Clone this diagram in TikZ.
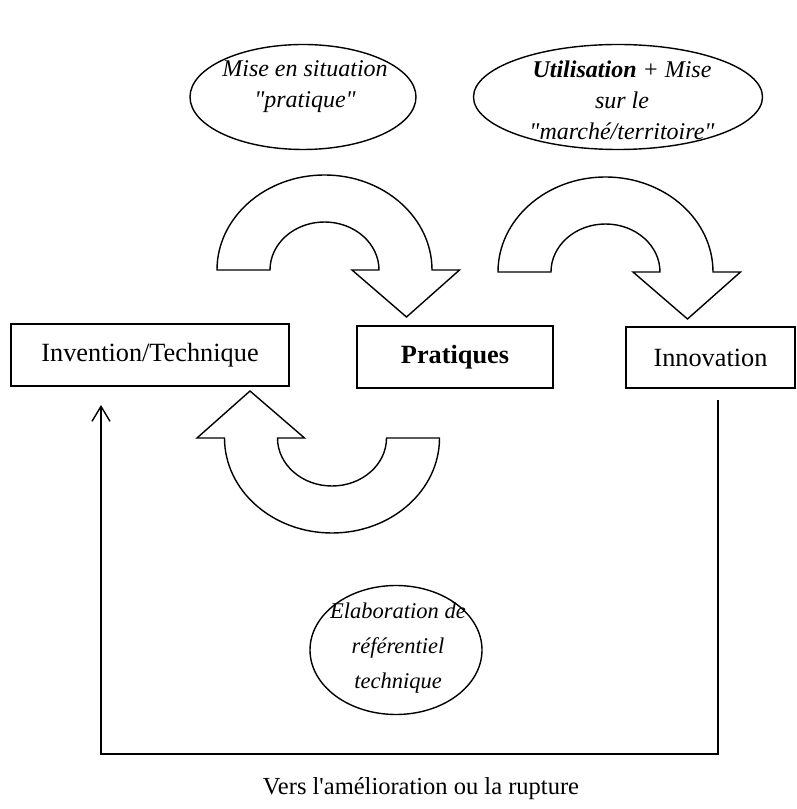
\documentclass[tikz,border=0pt]{standalone}
\usepackage{fontspec}
\setmainfont{Liberation Serif}[Ligatures=TeXOff]
\usetikzlibrary{arrows.meta,shapes.geometric}

\tikzset{
  cadre/.style={draw, inner sep=0pt},
  bulle/.style={draw, ellipse, inner sep=0pt},
  legende/.style={font=\fontsize{24}{31}\selectfont\itshape, align=center},
  fleche/.style={-{Straight Barb[length=15pt,width=18pt]}},
  pics/demitour/.style={code={
    \draw (-107.5,0) arc[start angle=180, end angle=0, x radius=107.5, y radius=95]
      -- (135,0) -- (82,-47) -- (27.5,0) -- (54.5,0)
      arc[start angle=0, end angle=180, x radius=54.5, y radius=48] -- cycle;
  }}
}

\begin{document}
\begin{tikzpicture}[x=1pt, y=1pt, line width=1.4pt, font=\fontsize{26.3}{31}\selectfont]
  \useasboundingbox (0,0) rectangle (797,809);

  % Bulles
  \node[bulle, minimum width=226pt, minimum height=105pt] (situation) at (303,712) {};
  \node[bulle, minimum width=289pt, minimum height=105pt] (marche) at (618,712) {};
  \node[bulle, minimum width=172pt, minimum height=129pt] (referentiel) at (396,159) {};

  \node[legende] (tsituation) at (305,722) {Mise en situation\\"pratique"};
  \node[legende] (tmarche) at (622,709) {\textbf{Utilisation} + Mise\\sur le\\"marché/territoire"};
  \node[legende, font=\fontsize{22.5}{35}\selectfont\itshape] (treferentiel) at (398,161) {Elaboration de\\référentiel\\technique};

  % Etapes
  \node[cadre, minimum width=278pt, minimum height=62pt] (invention) at (150,454) {Invention/Technique};
  \node[cadre, minimum width=196pt, minimum height=62pt] (pratiques) at (455,452) {\textbf{Pratiques}};
  \node[cadre, minimum width=169pt, minimum height=61pt] (innovation) at (710.5,451.5) {Innovation};

  % Demi-tours
  \pic at (324.5,539) {demitour};
  \pic at (605.5,537) {demitour};
  \pic[rotate=180] at (332,371) {demitour};

  % Retour
  \coordinate (retourD) at (718,409);
  \coordinate (coinD) at (718,55);
  \coordinate (coinG) at (101,55);
  \coordinate (retourG) at (101,404);
  \draw[fleche] (retourD) -- (coinD) -- (coinG) -- (retourG);

  \node[font=\fontsize{24.5}{29}\selectfont] (amelioration) at (421,20) {Vers l'amélioration ou la rupture};
\end{tikzpicture}
\end{document}
